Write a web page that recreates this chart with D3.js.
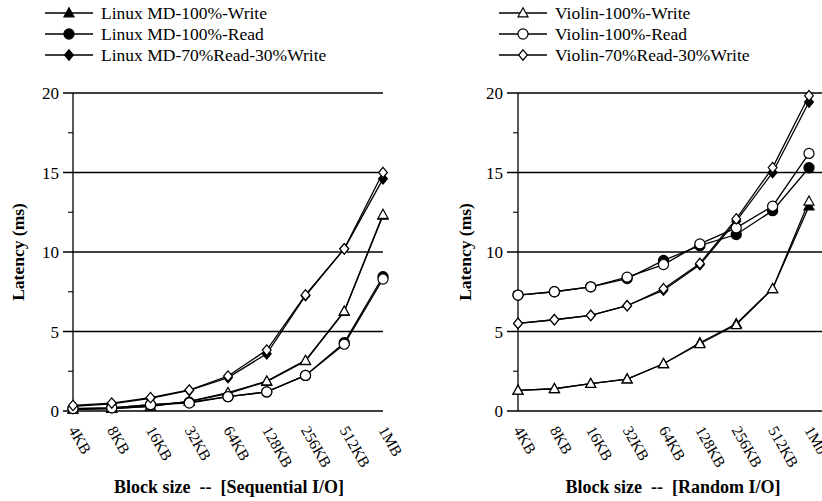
<!DOCTYPE html>
<html><head><meta charset="utf-8">
<script src="https://cdn.jsdelivr.net/npm/d3@7"></script>
<style>
body{margin:0;background:#fff;}
text{font-family:"Liberation Serif","Times New Roman",serif;fill:#000;}
</style></head>
<body><svg id="c" width="822" height="501"></svg>
<script>
const blockSizesSeq = ["4KB","8KB","16KB","32KB","64KB","128KB","256KB","512KB","1MB"];
const blockSizesRand = ["4KB","8KB","16KB","32KB","64KB","128KB","256KB","512KB","1Mb"];
const yTicks = [0,5,10,15,20];

// Sequential I/O
const seqLinuxWrite  = [0.1, 0.15, 0.3, 0.6, 1.1, 1.85, 3.15, 6.25, 12.3];
const seqLinuxRead   = [0.15, 0.2, 0.4, 0.55, 0.9, 1.2, 2.24, 4.3, 8.45];
const seqLinuxMixed  = [0.3, 0.45, 0.8, 1.3, 2.1, 3.6, 7.25, 10.2, 14.6];
const seqViolinWrite = [0.1, 0.15, 0.3, 0.6, 1.15, 1.88, 3.18, 6.28, 12.36];
const seqViolinRead  = [0.15, 0.2, 0.4, 0.5, 0.9, 1.2, 2.24, 4.2, 8.3];
const seqViolinMixed = [0.35, 0.5, 0.84, 1.32, 2.2, 3.83, 7.3, 10.2, 15.0];

// Random I/O
const randLinuxWrite  = [1.3, 1.4, 1.72, 2.0, 2.97, 4.29, 5.49, 7.69, 12.88];
const randLinuxRead   = [7.29, 7.5, 7.81, 8.33, 9.47, 10.4, 11.1, 12.6, 15.3];
const randLinuxMixed  = [5.51, 5.74, 6.01, 6.62, 7.6, 9.2, 11.94, 15.0, 19.43];
const randViolinWrite = [1.3, 1.4, 1.72, 2.01, 2.97, 4.23, 5.42, 7.69, 13.19];
const randViolinRead  = [7.29, 7.5, 7.81, 8.42, 9.21, 10.51, 11.52, 12.88, 16.2];
const randViolinMixed = [5.51, 5.74, 6.01, 6.62, 7.69, 9.28, 12.08, 15.31, 19.83];

const legendLinux = ["Linux MD-100%-Write","Linux MD-100%-Read","Linux MD-70%Read-30%Write"];
const legendViolin = ["Violin-100%-Write","Violin-100%-Read","Violin-70%Read-30%Write"];

const svg = d3.select("#c");
const shapes = {
  tri: "M0,-5.2L5,3.8L-5,3.8Z",
  circ: d3.symbol(d3.symbolCircle, 80)(),
  dia: "M0,-5.2L4.4,0L0,5.2L-4.4,0Z"
};

function panel(cfg){
  const g = svg.append("g");
  const x = d3.scalePoint().domain(cfg.cats).range(cfg.xr);
  const y = d3.scaleLinear().domain([0,20]).range([411,93]);
  g.selectAll(".grid").data(yTicks).join("line")
    .attr("x1", cfg.gx[0]).attr("x2", cfg.gx[1])
    .attr("y1", d=>y(d)).attr("y2", d=>y(d))
    .attr("stroke","#000").attr("stroke-width",1.3);
  g.selectAll(".mt").data([2.5,7.5,12.5,17.5]).join("line")
    .attr("x1", cfg.xr[0]-5).attr("x2", cfg.xr[0])
    .attr("y1", d=>y(d)).attr("y2", d=>y(d))
    .attr("stroke","#000").attr("stroke-width",1.1);
  g.append("line").attr("x1",cfg.xr[0]).attr("x2",cfg.xr[0])
    .attr("y1",y(20)).attr("y2",y(0)).attr("stroke","#000").attr("stroke-width",1.3);
  g.selectAll(".yl").data(yTicks).join("text")
    .attr("x", cfg.gx[0]-4).attr("y", d=>y(d)+6)
    .attr("text-anchor","end").style("font-size","17px").text(d=>d);
  g.append("text").attr("transform",`translate(${cfg.ytx},252) rotate(-90)`)
    .attr("text-anchor","middle").style("font-size","17.5px").style("font-weight","bold")
    .text("Latency (ms)");
  g.selectAll(".xl").data(cfg.cats).join("text")
    .attr("transform", d=>`translate(${x(d)-5},430) rotate(60)`)
    .style("font-size","15.5px").text(d=>d);
  g.append("text").attr("x",cfg.xtx).attr("y",493).attr("text-anchor","middle")
    .style("font-size","18px").style("font-weight","bold").style("white-space","pre")
    .text(cfg.xtitle);
  const line = d3.line().x((d,i)=>x(cfg.cats[i])).y(d=>y(d));
  cfg.series.forEach(s=>{
    g.append("path").datum(s.v).attr("d",line).attr("fill","none")
      .attr("stroke","#000").attr("stroke-width",1.3);
    g.selectAll(null).data(s.v).join("path")
      .attr("transform",(d,i)=>`translate(${x(cfg.cats[i])},${y(d)})`)
      .attr("d",shapes[s.shape]).attr("fill",s.fill).attr("stroke","#000").attr("stroke-width",1.2);
  });
}

panel({cats:blockSizesSeq, xr:[73,383], gx:[63,383], ytx:24, xtx:229,
  xtitle:"Block size  --  [Sequential I/O]",
  series:[
    {v:seqLinuxWrite, shape:"tri", fill:"#000"},
    {v:seqLinuxRead, shape:"circ", fill:"#000"},
    {v:seqLinuxMixed, shape:"dia", fill:"#000"},
    {v:seqViolinWrite, shape:"tri", fill:"#fff"},
    {v:seqViolinRead, shape:"circ", fill:"#fff"},
    {v:seqViolinMixed, shape:"dia", fill:"#fff"}
  ]});
panel({cats:blockSizesRand, xr:[518,809], gx:[507,822], ytx:471, xtx:673,
  xtitle:"Block size  --  [Random I/O]",
  series:[
    {v:randLinuxWrite, shape:"tri", fill:"#000"},
    {v:randLinuxRead, shape:"circ", fill:"#000"},
    {v:randLinuxMixed, shape:"dia", fill:"#000"},
    {v:randViolinWrite, shape:"tri", fill:"#fff"},
    {v:randViolinRead, shape:"circ", fill:"#fff"},
    {v:randViolinMixed, shape:"dia", fill:"#fff"}
  ]});

function legend(x0, labels, fill){
  const sh = ["tri","circ","dia"];
  const rows = [13,34,55];
  labels.forEach((t,i)=>{
    const g = svg.append("g").attr("transform",`translate(0,${rows[i]})`);
    g.append("line").attr("x1",x0).attr("x2",x0+48).attr("stroke","#000").attr("stroke-width",1.3);
    g.append("path").attr("transform",`translate(${x0+24},0)`).attr("d",shapes[sh[i]])
      .attr("fill",fill).attr("stroke","#000").attr("stroke-width",1.2);
    g.append("text").attr("x",x0+56).attr("y",6).style("font-size","17.5px").text(t);
  });
}
legend(45, legendLinux, "#000");
legend(499, legendViolin, "#fff");
</script></body></html>
